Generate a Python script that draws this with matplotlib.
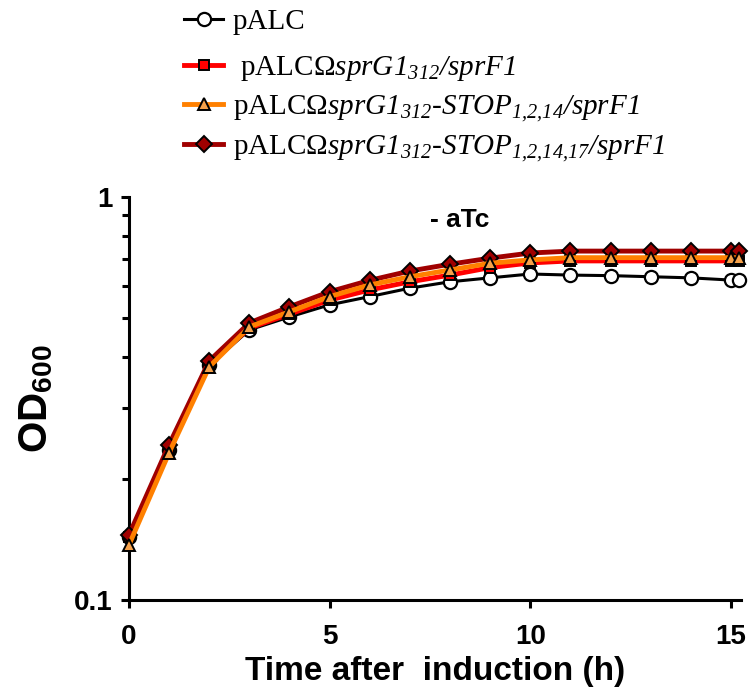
import matplotlib
matplotlib.use('Agg')
import matplotlib.pyplot as plt

plt.rcParams['font.family'] = 'Liberation Sans'
plt.rcParams['mathtext.fontset'] = 'custom'
plt.rcParams['mathtext.rm'] = 'Liberation Serif:italic'
plt.rcParams['mathtext.it'] = 'Liberation Serif:italic'
plt.rcParams['mathtext.bf'] = 'Liberation Sans:bold'

# time after induction (h)
time = [0, 1, 2, 3, 4, 5, 6, 7, 8, 9, 10, 11, 12, 13, 14, 15, 15.2]

# OD600
od_palc = [0.143, 0.236, 0.382, 0.468, 0.504, 0.540, 0.566, 0.594, 0.616, 0.630,
           0.644, 0.640, 0.638, 0.634, 0.630, 0.622, 0.622]
od_sprg = [0.143, 0.236, 0.385, 0.473, 0.512, 0.555, 0.588, 0.616, 0.640, 0.668,
           0.686, 0.694, 0.694, 0.694, 0.694, 0.694, 0.694]
od_stop3 = [0.137, 0.232, 0.379, 0.476, 0.519, 0.566, 0.605, 0.634, 0.659, 0.685,
            0.698, 0.707, 0.707, 0.707, 0.707, 0.707, 0.707]
od_stop4 = [0.145, 0.243, 0.392, 0.487, 0.534, 0.582, 0.621, 0.655, 0.681, 0.705,
            0.726, 0.734, 0.734, 0.734, 0.734, 0.734, 0.734]

labels = [
    'pALC',
    r' pALCΩ$\mathrm{sprG1}_{\mathrm{312}}\mathrm{/sprF1}$',
    r'pALCΩ$\mathrm{sprG1}_{\mathrm{312}}$-$\mathrm{STOP}_{\mathrm{1{,}2{,}14}}\mathrm{/sprF1}$',
    r'pALCΩ$\mathrm{sprG1}_{\mathrm{312}}$-$\mathrm{STOP}_{\mathrm{1{,}2{,}14{,}17}}\mathrm{/sprF1}$',
]

xticks = [0, 5, 10, 15]
yticks = [0.1, 1]
ytick_labels = ['0.1', '1']

fig = plt.figure(figsize=(7.56, 6.98), dpi=100)
ax = fig.add_axes([0.1706, 0.1404, 0.8095, 0.5774])

h1, = ax.plot(time, od_palc, color='black', lw=2.2, marker='o', ms=9.5,
              mfc='white', mec='black', mew=1.6, clip_on=False, zorder=3)
h2, = ax.plot(time, od_sprg, color='#ff0000', lw=3.5, marker='s', ms=7.5,
              mfc='#ff0000', mec='black', mew=1.4, clip_on=False, zorder=4)
h4, = ax.plot(time, od_stop4, color='#a00000', lw=3.5, marker='D', ms=8,
              mfc='#a00000', mec='black', mew=1.4, clip_on=False, zorder=5)
h3, = ax.plot(time, od_stop3, color='#ff8000', lw=3.5, marker='^', ms=9,
              mfc='#f6a14a', mec='black', mew=1.4, clip_on=False, zorder=6)

ax.set_yscale('log')
ax.set_ylim(0.1, 1)
ax.set_xlim(0, 15.25)
ax.set_xticks(xticks)
ax.set_yticks(yticks)
ax.set_yticklabels(ytick_labels)
ax.yaxis.set_minor_locator(matplotlib.ticker.LogLocator(base=10, subs=range(2, 10)))
ax.yaxis.set_minor_formatter(matplotlib.ticker.NullFormatter())

for s in ['top', 'right']:
    ax.spines[s].set_visible(False)
for s in ['left', 'bottom']:
    ax.spines[s].set_linewidth(2.2)
ax.tick_params(which='major', length=6, width=2.2, labelsize=20)
ax.tick_params(axis='x', pad=11)
ax.tick_params(axis='y', pad=6)
ax.tick_params(which='minor', length=5, width=2.2)
for t in ax.get_xticklabels() + ax.get_yticklabels():
    t.set_fontweight('bold')

ax.set_xlabel('Time after  induction (h)', fontsize=24, fontweight='bold')
ax.xaxis.set_label_coords(0.5, -0.14)
ax.set_ylabel(r'$\mathbf{OD}_{\mathbf{600}}$', fontsize=29)
ax.yaxis.set_label_coords(-0.12, 0.5)

ax.text(8.25, 0.877, '- aTc', fontsize=19, fontweight='bold', ha='center', va='center')

leg_font = {'family': 'Liberation Serif', 'size': 21}
leg1 = fig.legend([h1], labels[:1], loc='center left', bbox_to_anchor=(0.2434, 0.9685),
                  frameon=False, prop=leg_font, handlelength=1.34, handletextpad=0.34,
                  borderpad=0, borderaxespad=0)
fig.legend([h2, h3, h4], labels[1:], loc='center left', bbox_to_anchor=(0.2434, 0.8438),
           frameon=False, prop=leg_font, handlelength=1.34, handletextpad=0.34,
           labelspacing=0.35, borderpad=0, borderaxespad=0)

fig.savefig('out.png', dpi=100)
